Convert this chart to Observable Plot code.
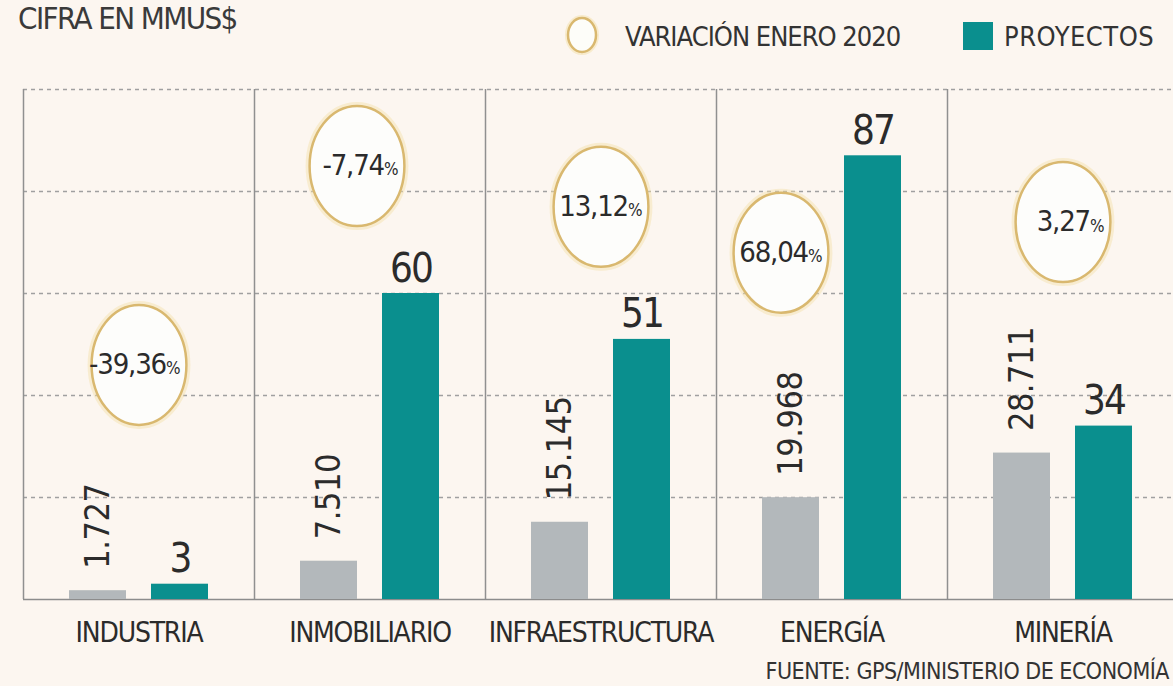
<!DOCTYPE html>
<html>
<head>
<meta charset="utf-8">
<script src="https://cdn.jsdelivr.net/npm/d3@7"></script>
<script src="https://cdn.jsdelivr.net/npm/@observablehq/plot@0.6"></script>
<style>
  html, body { margin: 0; padding: 0; background: #fcf6f0; overflow: hidden; }
  body { width: 1173px; height: 686px; position: relative;
         font-family: "Liberation Sans Narrow", "DejaVu Sans Condensed", "Roboto", sans-serif; color: #333; }
  #header { position: relative; height: 60px; }
  #title { position: absolute; left: 18px; top: 0px; font-size: 31px; line-height: 37px; color: #3a3a3a;
           white-space: nowrap; letter-spacing: -1.6px; }
  .leg { position: absolute; white-space: nowrap; font-size: 27px; line-height: 28px; color: #333; }
  #chart { height: 590px; }
  #caption { height: 36px; box-sizing: border-box; padding-top: 3px; padding-right: 4px; text-align: right;
             font-size: 23px; line-height: 36px; color: #333; white-space: nowrap; letter-spacing: -0.5px; }
</style>
</head>
<body>
<div id="header">
  <div id="title">CIFRA EN MMUS$</div>
  <svg class="leg" style="left:565px;top:15px" width="36" height="40">
    <ellipse cx="17" cy="20" rx="14" ry="17" fill="none" stroke="#f4e0a8" stroke-width="6" stroke-opacity="0.5"></ellipse>
    <ellipse cx="17" cy="20" rx="14" ry="17" fill="#fdfdf9" stroke="#d9b86f" stroke-width="2.5"></ellipse>
  </svg>
  <div class="leg" style="left:625px;top:23px;letter-spacing:-1px">VARIACIÓN ENERO 2020</div>
  <div class="leg" style="left:963px;top:22px;width:30px;height:28px;background:#0a8f8e"></div>
  <div class="leg" style="left:1004px;top:23px;letter-spacing:0.5px">PROYECTOS</div>
</div>
<div id="chart"></div>
<div id="caption">FUENTE: GPS/MINISTERIO DE ECONOMÍA</div>
<script>
// ---- Data ----
const categorias = ["INDUSTRIA", "INMOBILIARIO", "INFRAESTRUCTURA", "ENERGÍA", "MINERÍA"];
const montoMMUS = [1727, 7510, 15145, 19968, 28711];
const proyectos = [3, 60, 51, 87, 34];
const variacion = [-39.36, -7.74, 13.12, 68.04, 3.27];
const gridTicks = [20, 40, 60, 80, 100];

// annotation anchors for the "variación" badges (chart units / pixel shift)
const badgeY = [46, 85, 77, 68, 74];
const badgeDx = [0, -13, 0, -51, 0];

// ---- Formatting ----
const es = d3.formatLocale({decimal: ",", thousands: ".", grouping: [3], currency: ["", "$"], minus: "-"});
const fmtMonto = es.format(",");
const fmtVar = es.format(".2f");

const datos = categorias.map((c, i) => ({
  categoria: c,
  monto: montoMMUS[i] / 1000,
  montoTxt: fmtMonto(montoMMUS[i]),
  proyectos: proyectos[i],
  proyTxt: String(proyectos[i]),
  varTxt: fmtVar(variacion[i]),
  badgeY: badgeY[i]
}));

// ellipse symbol (taller than wide)
const elipse = {
  draw(ctx, size) {
    const r = Math.sqrt(size / Math.PI), rx = r * 0.79, ry = r, k = 0.5523;
    ctx.moveTo(rx, 0);
    ctx.bezierCurveTo(rx, k * ry, k * rx, ry, 0, ry);
    ctx.bezierCurveTo(-k * rx, ry, -rx, k * ry, -rx, 0);
    ctx.bezierCurveTo(-rx, -k * ry, -k * rx, -ry, 0, -ry);
    ctx.bezierCurveTo(k * rx, -ry, rx, -k * ry, rx, 0);
    ctx.closePath();
  }
};

const W = 1173, ML = 23, MR = -5;
const half = (W - MR - ML) / categorias.length / 2;
const FONT = '"Liberation Sans Narrow", "DejaVu Sans Condensed", "Roboto", sans-serif';
const TEAL = "#0a8f8e", GRAY = "#b3b8bb", INK = "#2b2b2b";

const badgeMarks = datos.flatMap((d, i) => [
  Plot.dot([d], {x: "categoria", y: "badgeY", dx: badgeDx[i], r: 60, symbol: elipse,
    fill: "none", stroke: "#f4e0a8", strokeWidth: 8, strokeOpacity: 0.45}),
  Plot.dot([d], {x: "categoria", y: "badgeY", dx: badgeDx[i], r: 60, symbol: elipse,
    fill: "#fdfdfb", stroke: "#d9b86f", strokeWidth: 2.5}),
  Plot.text([d], {x: "categoria", y: "badgeY", dx: badgeDx[i] + 27, text: "varTxt",
    textAnchor: "end", lineAnchor: "middle", fontSize: 29, fill: INK}),
  Plot.text([d], {x: "categoria", y: "badgeY", dx: badgeDx[i] + 27, dy: 4, text: () => "%",
    textAnchor: "start", lineAnchor: "middle", fontSize: 17, fill: INK})
]);

const chart = Plot.plot({
  width: W, height: 590,
  marginTop: 29, marginBottom: 51, marginLeft: ML, marginRight: MR,
  style: {background: "transparent", fontFamily: FONT, color: INK, overflow: "visible"},
  x: {domain: categorias, padding: 0, axis: null},
  y: {domain: [0, 100], axis: null},
  marks: [
    Plot.ruleY(gridTicks, {stroke: "#a0a0a0", strokeWidth: 1.5, strokeDasharray: "4,4"}),
    Plot.ruleX(categorias, {x: d => d, y1: 0, y2: 100, dx: -half, stroke: "#909090", strokeWidth: 1.5}),
    Plot.ruleY([0], {stroke: "#8c8c8c", strokeWidth: 1.5}),
    Plot.barY(datos, {x: "categoria", y: "monto", fill: GRAY, insetLeft: 46, insetRight: 128}),
    Plot.barY(datos, {x: "categoria", y: "proyectos", fill: TEAL, insetLeft: 128, insetRight: 46}),
    Plot.text(datos, {x: "categoria", y: "proyectos", text: "proyTxt", dx: 41, dy: -12,
      lineAnchor: "bottom", fontSize: 40, fill: INK}),
    Plot.text(datos, {x: "categoria", y: "monto", text: "montoTxt", rotate: -90, textAnchor: "start",
      lineAnchor: "middle", dx: -41, dy: -22, fontSize: 34, fill: INK}),
    Plot.text(categorias, {x: d => d, frameAnchor: "bottom", dy: 23, lineAnchor: "top",
      fontSize: 28, fill: INK}),
    ...badgeMarks
  ]
});
// tighten letter spacing to approximate the condensed typeface
const sel = d3.select(chart);
sel.selectAll('g[font-size="28"]').attr("letter-spacing", "-1.2");
sel.selectAll('g[font-size="29"]').attr("letter-spacing", "-1.2");
sel.selectAll('g[font-size="40"]').attr("letter-spacing", "-2");
sel.selectAll('g[font-size="34"]').attr("letter-spacing", "-0.5");
document.getElementById("chart").appendChild(chart);
</script>
</body>
</html>
